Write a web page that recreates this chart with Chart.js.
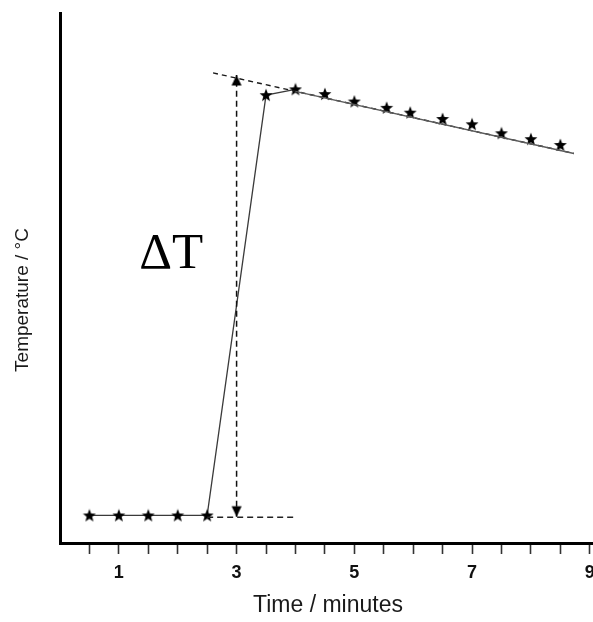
<!DOCTYPE html>
<html>
<head>
<meta charset="utf-8">
<script src="https://cdn.jsdelivr.net/npm/chart.js@4/dist/chart.umd.min.js"></script>
<style>
  html, body { margin: 0; padding: 0; background: #fff; overflow: hidden; }
  #wrap { width: 593px; height: 622px; overflow: hidden; position: relative; }
  canvas { display: block; }
</style>
</head>
<body>
<div id="wrap"><canvas id="c" width="593" height="622" style="width:593px;height:622px"></canvas></div>
<script>
// ---- data ----
const lowTimes  = [0.5, 1, 1.5, 2, 2.5];
const lowTemps  = [5.2, 5.2, 5.2, 5.2, 5.2];
const highTimes = [3.5, 4, 4.5, 5, 5.55, 5.95, 6.5, 7, 7.5, 8, 8.5];
const highTemps = [84.5, 85.6, 84.7, 83.3, 82.1, 81.2, 80.0, 79.0, 77.3, 76.2, 75.1];
const fitTimes  = [2.6, 8.73];          // dashed extrapolated cooling line
const fitTemps  = [88.7, 73.5];
const fitSolidTimes = [4.0, 8.73];      // solid part of the cooling line
const fitSolidTemps = [85.2, 73.5];
const baseTimes = [2.5, 4.0];
const baseTemps = [4.85, 4.85];
const arrowTimes = [3, 3];
const arrowTemps = [4.96, 88.3];
const xTickLabels = [1, 3, 5, 7, 9];
const deltaLabel = { text: 'ΔT', x: 1.89, y: 51.9 };
const xTitle = 'Time / minutes';
const yTitle = 'Temperature / °C';

function pts(xs, ys) { return xs.map((x, i) => ({ x: x, y: ys[i] })); }
const allTimes = lowTimes.concat(highTimes);
const allTemps = lowTemps.concat(highTemps);
const lastJoined = lowTimes.length + 1; // points joined by the solid data line up to t = 4

// star marker
const star = document.createElement('canvas');
star.width = 14; star.height = 14;
(function () {
  const g = star.getContext('2d');
  g.fillStyle = '#000';
  g.beginPath();
  const cx = 7, cy = 7.4, R = 6.8, r = 2.9;
  for (let i = 0; i < 10; i++) {
    const a = -Math.PI / 2 + i * Math.PI / 5;
    const rr = i % 2 === 0 ? R : r;
    const px = cx + rr * Math.cos(a), py = cy + rr * Math.sin(a);
    if (i === 0) g.moveTo(px, py); else g.lineTo(px, py);
  }
  g.closePath();
  g.fill();
})();

// arrowhead marker (tip at the canvas centre, pointing down)
const head = document.createElement('canvas');
head.width = 12; head.height = 24;
(function () {
  const g = head.getContext('2d');
  g.fillStyle = '#000';
  g.beginPath();
  g.moveTo(1, 1.5); g.lineTo(11, 1.5); g.lineTo(6, 12); g.closePath();
  g.fill();
})();

const textPlugin = {
  id: 'texts',
  afterDraw(chart) {
    const ctx = chart.ctx, xs = chart.scales.x, ys = chart.scales.y;
    ctx.save();
    ctx.fillStyle = '#000';
    ctx.font = '51px "Liberation Serif", "Times New Roman", serif';
    ctx.textAlign = 'center';
    ctx.textBaseline = 'alphabetic';
    ctx.fillText(deltaLabel.text, xs.getPixelForValue(deltaLabel.x), ys.getPixelForValue(deltaLabel.y));

    ctx.fillStyle = '#1a1a1a';
    ctx.font = '23px "Liberation Sans", Arial, sans-serif';
    ctx.textBaseline = 'middle';
    ctx.fillText(xTitle, 328, 606);

    ctx.font = '19px "Liberation Sans", Arial, sans-serif';
    ctx.translate(23, 300);
    ctx.rotate(-Math.PI / 2);
    ctx.fillText(yTitle, 0, 0);
    ctx.restore();
  }
};

new Chart(document.getElementById('c'), {
  type: 'scatter',
  data: {
    datasets: [
      {
        label: 'fit solid',
        data: pts(fitSolidTimes, fitSolidTemps),
        showLine: true,
        borderColor: '#5a5a5a',
        borderWidth: 1.4,
        pointRadius: 0
      },
      {
        label: 'fit',
        data: pts(fitTimes, fitTemps),
        showLine: true,
        borderColor: '#1a1a1a',
        borderWidth: 1.4,
        borderDash: [5, 4],
        pointRadius: 0
      },
      {
        label: 'baseline',
        data: pts(baseTimes, baseTemps),
        showLine: true,
        borderColor: '#222',
        borderWidth: 1.5,
        borderDash: [6, 4],
        pointRadius: 0
      },
      {
        label: 'arrow',
        data: pts(arrowTimes, arrowTemps),
        showLine: true,
        borderColor: '#111',
        borderWidth: 1.5,
        borderDash: [6, 4],
        pointStyle: head,
        pointRotation: [0, 180],
        pointRadius: 6
      },
      {
        label: 'temperature',
        data: pts(allTimes, allTemps),
        showLine: true,
        borderColor: '#3a3a3a',
        borderWidth: 1.3,
        segment: { borderColor: (c) => c.p0DataIndex >= lastJoined ? 'rgba(0,0,0,0)' : '#3a3a3a' },
        pointStyle: star,
        pointRadius: 7
      }
    ]
  },
  options: {
    responsive: false,
    animation: false,
    devicePixelRatio: 1,
    layout: { autoPadding: false, padding: { top: 13, left: 0, right: 0, bottom: 0 } },
    plugins: { legend: { display: false }, tooltip: { enabled: false } },
    scales: {
      x: {
        type: 'linear',
        min: 0,
        max: 9.055,
        offset: false,
        border: { display: true, color: '#000', width: 3 },
        grid: { display: true, drawOnChartArea: false, drawTicks: true, tickLength: 11, tickColor: '#333', tickWidth: 1.6 },
        ticks: {
          stepSize: 0.5,
          autoSkip: false,
          includeBounds: false,
          maxRotation: 0,
          padding: 8,
          color: '#111',
          font: { family: '"Liberation Sans", Arial, sans-serif', size: 18, weight: 'bold' },
          callback: (v) => xTickLabels.includes(v) ? String(v) : ''
        },
        afterBuildTicks: (s) => { s.ticks = s.ticks.filter(t => t.value > 0.01 && t.value <= 9.001); },
        afterFit: (s) => { s.height = 79; s.paddingLeft = 0; s.paddingRight = 0; }
      },
      y: {
        type: 'linear',
        min: 0,
        max: 100,
        border: { display: true, color: '#000', width: 3 },
        grid: { display: false },
        ticks: { display: false },
        afterFit: (s) => { s.width = 60; s.paddingTop = 0; s.paddingBottom = 0; }
      }
    }
  },
  plugins: [textPlugin]
});
</script>
</body>
</html>
